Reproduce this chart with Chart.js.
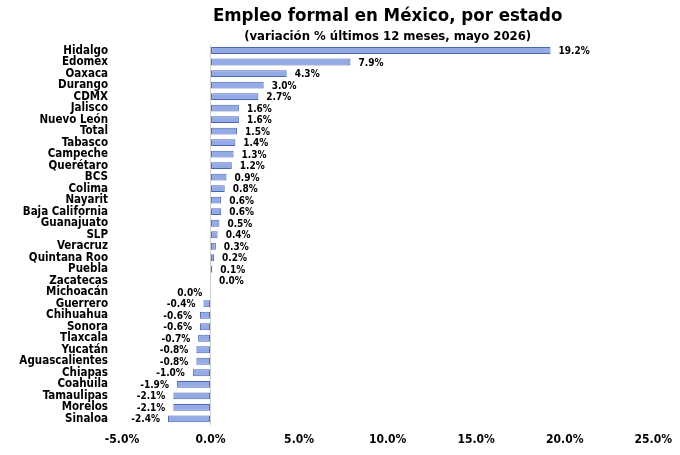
<!DOCTYPE html>
<html lang="es">
<head>
<meta charset="UTF-8">
<title>Empleo formal en México, por estado</title>
<script src="https://cdn.jsdelivr.net/npm/chart.js"></script>
<style>
  html, body { margin: 0; padding: 0; background: #fff; }
  #wrap { width: 680px; height: 455px; }
</style>
</head>
<body>
<div id="wrap"><canvas id="chart"></canvas></div>
<script>
const estados = ['Hidalgo', 'Edomex', 'Oaxaca', 'Durango', 'CDMX', 'Jalisco', 'Nuevo León', 'Total',
  'Tabasco', 'Campeche', 'Querétaro', 'BCS', 'Colima', 'Nayarit', 'Baja California', 'Guanajuato',
  'SLP', 'Veracruz', 'Quintana Roo', 'Puebla', 'Zacatecas', 'Michoacán', 'Guerrero', 'Chihuahua',
  'Sonora', 'Tlaxcala', 'Yucatán', 'Aguascalientes', 'Chiapas', 'Coahuila', 'Tamaulipas', 'Morelos', 'Sinaloa'];
// variación % anual, mayo 2026
const variacion = [19.2, 7.9, 4.3, 3.0, 2.7, 1.6, 1.6, 1.5,
  1.4, 1.3, 1.2, 0.9, 0.8, 0.6, 0.6, 0.5,
  0.4, 0.3, 0.2, 0.1, 0.02, -0.02, -0.4, -0.6,
  -0.6, -0.7, -0.8, -0.8, -1.0, -1.9, -2.1, -2.1, -2.4];
const xMin = -5, xMax = 25, xStep = 5;

const FONT = "'Liberation Sans Narrow', 'DejaVu Sans Condensed', sans-serif";

function fmt(v) {
  let s = v.toFixed(1);
  if (s === '-0.0') s = '0.0';
  return s + '%';
}

// etiquetas de valor junto a cada barra
const barLabels = {
  id: 'barLabels',
  afterDatasetsDraw(chart) {
    const ctx = chart.ctx;
    const meta = chart.getDatasetMeta(0);
    ctx.save();
    ctx.font = 'bold 10px ' + FONT;
    ctx.fillStyle = '#000';
    ctx.textBaseline = 'middle';
    meta.data.forEach((bar, i) => {
      const v = variacion[i];
      if (v >= 0) {
        ctx.textAlign = 'left';
        ctx.fillText(fmt(v), bar.x + 8, bar.y + 1);
      } else {
        ctx.textAlign = 'right';
        ctx.fillText(fmt(v), bar.x - 8, bar.y + 1);
      }
    });
    ctx.restore();
  }
};

new Chart(document.getElementById('chart'), {
  type: 'bar',
  data: {
    labels: estados,
    datasets: [{
      data: variacion,
      backgroundColor: '#93aae4',
      borderColor: '#4a66b8',
      borderWidth: 1,
      borderSkipped: false,
      categoryPercentage: 0.65,
      barPercentage: 0.92
    }]
  },
  options: {
    indexAxis: 'y',
    responsive: true,
    maintainAspectRatio: false,
    animation: false,
    layout: { padding: { left: 0, right: 23, top: 4, bottom: 0 } },
    plugins: {
      legend: { display: false },
      tooltip: { enabled: false },
      title: {
        display: true,
        fullSize: false,
        text: 'Empleo formal en México, por estado',
        color: '#000',
        font: { family: FONT, size: 18.5, weight: 'bold' },
        padding: { top: 1, bottom: 0 }
      },
      subtitle: {
        display: true,
        fullSize: false,
        text: '(variación % últimos 12 meses, mayo 2026)',
        color: '#000',
        font: { family: FONT, size: 13, weight: 'bold' },
        padding: { top: 2, bottom: 0 }
      }
    },
    scales: {
      x: {
        min: xMin,
        max: xMax,
        ticks: {
          stepSize: xStep,
          color: '#000',
          padding: 8,
          font: { family: FONT, size: 12, weight: 'bold' },
          callback: v => v.toFixed(1) + '%'
        },
        grid: {
          drawTicks: false,
          color: c => c.tick && c.tick.value === 0 ? '#d0d0d0' : 'rgba(0,0,0,0)'
        },
        border: { display: false }
      },
      y: {
        afterFit: s => { s.width = 122; },
        ticks: {
          color: '#000',
          padding: 14,
          autoSkip: false,
          font: { family: FONT, size: 11.5, weight: 'bold' }
        },
        grid: { display: false, drawTicks: false },
        border: { display: false }
      }
    }
  },
  plugins: [barLabels]
});
</script>
</body>
</html>
